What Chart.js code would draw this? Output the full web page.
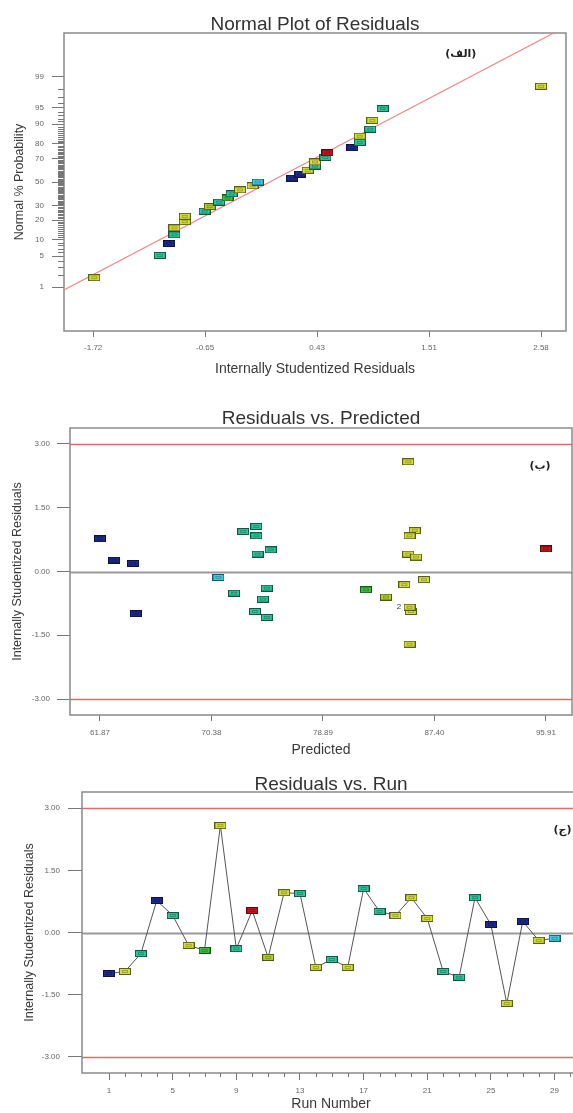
<!DOCTYPE html>
<html>
<head>
<meta charset="utf-8">
<script src="https://cdn.jsdelivr.net/npm/chart.js@4.4.1/dist/chart.umd.min.js"></script>
<style>
  html, body { margin: 0; padding: 0; background: #fff; overflow: hidden; }
  body { width: 573px; height: 1113px; position: relative; }
  .box { position: absolute; left: 0; width: 600px; }
</style>
</head>
<body>
<div class="box" style="top:0;height:385px"><canvas id="c1" width="600" height="385"></canvas></div>
<div class="box" style="top:385px;height:375px"><canvas id="c2" width="600" height="375"></canvas></div>
<div class="box" style="top:760px;height:353px"><canvas id="c3" width="600" height="353"></canvas></div>
<script>
const F = '"Liberation Sans", Arial, sans-serif';

// (الف) normal plot: residuals in rank order and their normal % probability
const normResid = [-1.71, -1.08, -0.99, -0.94, -0.94, -0.84, -0.84, -0.65, -0.60, -0.51, -0.43, -0.39, -0.31, -0.19, -0.14,
                   0.19, 0.27, 0.34, 0.41, 0.41, 0.51, 0.53, 0.77, 0.84, 0.84, 0.94, 0.96, 1.06, 2.58];
const normProb = [1.7, 5.2, 8.6, 12.1, 15.5, 19.0, 22.4, 25.9, 29.3, 32.8, 36.2, 39.7, 43.1, 46.6, 50.0,
                  53.4, 56.9, 60.3, 63.8, 67.2, 70.7, 74.1, 77.6, 81.0, 84.5, 87.9, 91.4, 94.8, 98.3];
const probTicks = [1, 5, 10, 20, 30, 50, 70, 80, 90, 95, 99];
const probTickLabels = ['1', '5', '10', '20', '30', '50', '70', '80', '90', '95', '99'];
const normXTicks = [-1.72, -0.645, 0.43, 1.505, 2.58];
const normXTickLabels = ['-1.72', '-0.65', '0.43', '1.51', '2.58'];
const fitLineX = [-2.0, 2.9];
const fitLineProb = [0.84, 99.98];

// (ب) and (ج): one value per run
const runs = [1, 2, 3, 4, 5, 6, 7, 8, 9, 10, 11, 12, 13, 14, 15, 16, 17, 18, 19, 20, 21, 22, 23, 24, 25, 26, 27, 28, 29];
const residuals = [-0.99, -0.94, -0.51, 0.77, 0.41, -0.31, -0.43, 2.58, -0.39, 0.53, -0.60, 0.96, 0.94, -0.84, -0.65,
                   -0.84, 1.06, 0.51, 0.41, 0.84, 0.34, -0.94, -1.08, 0.84, 0.19, -1.71, 0.27, -0.19, -0.14];
const predicted = [64.60, 85.60, 72.10, 61.87, 73.90, 85.10, 82.17, 85.40, 74.60, 95.91, 83.70, 85.90, 72.80, 85.50, 74.30,
                   85.50, 73.80, 74.90, 85.40, 85.50, 86.00, 73.70, 74.60, 73.80, 64.39, 85.50, 62.94, 86.60, 70.91];
const predTicks = [61.87, 70.38, 78.89, 87.40, 95.91];
const predTickLabels = ['61.87', '70.38', '78.89', '87.40', '95.91'];
const resTicks = [-3, -1.5, 0, 1.5, 3];
const resTickLabels = ['-3.00', '-1.50', '0.00', '1.50', '3.00'];
const runTicks = [1, 5, 9, 13, 17, 21, 25, 29];
const runTickLabels = ['1', '5', '9', '13', '17', '21', '25', '29'];

// marker colours (style, kept apart from the values)
const pal = {B: '#1d2a92', T: '#2fc79c', C: '#40cfe4', Y: '#d5df3a', YG: '#b2d22e', G: '#3cc43c', R: '#c9161e'};
const runColors = ['B', 'Y', 'T', 'B', 'T', 'Y', 'G', 'Y', 'T', 'R', 'YG', 'Y', 'T', 'Y', 'T',
                   'Y', 'T', 'T', 'Y', 'Y', 'Y', 'T', 'T', 'T', 'B', 'Y', 'B', 'Y', 'C'];
const normColors = ['Y', 'T', 'B', 'T', 'Y', 'Y', 'Y', 'T', 'YG', 'T', 'G', 'T', 'Y', 'Y', 'C',
                    'B', 'B', 'Y', 'T', 'Y', 'T', 'R', 'B', 'T', 'Y', 'T', 'Y', 'T', 'Y'];

// inverse normal cdf (Acklam) for the probability axis
function probit(p) {
  const a = [-39.69683028665376, 220.9460984245205, -275.9285104469687, 138.3577518672690, -30.66479806614716, 2.506628277459239];
  const b = [-54.47609879822406, 161.5858368580409, -155.6989798598866, 66.80131188771972, -13.28068155288572];
  const c = [-0.007784894002430293, -0.3223964580411365, -2.400758277161838, -2.549732539343734, 4.374664141464968, 2.938163982698783];
  const d = [0.007784695709041462, 0.3224671290700398, 2.445134137142996, 3.754408661907416];
  const lo = 0.02425;
  let q, r;
  if (p < lo) {
    q = Math.sqrt(-2 * Math.log(p));
    return (((((c[0]*q + c[1])*q + c[2])*q + c[3])*q + c[4])*q + c[5]) / ((((d[0]*q + d[1])*q + d[2])*q + d[3])*q + 1);
  }
  if (p > 1 - lo) {
    q = Math.sqrt(-2 * Math.log(1 - p));
    return -(((((c[0]*q + c[1])*q + c[2])*q + c[3])*q + c[4])*q + c[5]) / ((((d[0]*q + d[1])*q + d[2])*q + d[3])*q + 1);
  }
  q = p - 0.5; r = q * q;
  return (((((a[0]*r + a[1])*r + a[2])*r + a[3])*r + a[4])*r + a[5])*q / (((((b[0]*r + b[1])*r + b[2])*r + b[3])*r + b[4])*r + 1);
}

function shade(hex, f) {
  const n = parseInt(hex.slice(1), 16);
  return 'rgb(' + Math.round((n >> 16) * f) + ',' + Math.round(((n >> 8) & 255) * f) + ',' + Math.round((n & 255) * f) + ')';
}

// little rectangular marker like the Design-Expert ones
const boxCache = {};
function box(key) {
  if (boxCache[key]) return boxCache[key];
  const col = pal[key];
  const c = document.createElement('canvas');
  c.width = 12; c.height = 7;
  const g = c.getContext('2d');
  g.fillStyle = col;
  g.fillRect(0, 0, 12, 7);
  g.strokeStyle = shade(col, 0.42);
  g.lineWidth = 1;
  g.strokeRect(0.5, 0.5, 11, 6);
  g.globalAlpha = 0.45;
  g.strokeRect(3.5, 2.5, 5, 2);
  boxCache[key] = c;
  return c;
}

const decor = {
  id: 'decor',
  beforeDatasetsDraw(chart, args, o) {
    const {ctx, chartArea: a, scales: {x, y}} = chart;
    ctx.save();
    (o.lines || []).forEach(l => {
      const py = Math.round(y.getPixelForValue(l.value)) + 0.5;
      ctx.strokeStyle = l.color;
      ctx.lineWidth = l.width;
      ctx.beginPath(); ctx.moveTo(a.left, py); ctx.lineTo(a.right, py); ctx.stroke();
    });
    ctx.strokeStyle = '#8a8a8a';
    ctx.lineWidth = 1.5;
    ctx.strokeRect(a.left, a.top, a.right - a.left, a.bottom - a.top);
    ctx.strokeStyle = '#777';
    ctx.lineWidth = 1;
    ctx.beginPath();
    (o.xMinor || []).forEach(v => {
      const px = Math.round(x.getPixelForValue(v)) + 0.5;
      ctx.moveTo(px, a.bottom); ctx.lineTo(px, a.bottom + o.xMinorLen);
    });
    (o.yMinor || []).forEach(v => {
      const py = Math.round(y.getPixelForValue(v)) + 0.5;
      ctx.moveTo(a.left - o.yMinorLen, py); ctx.lineTo(a.left, py);
    });
    ctx.stroke();
    ctx.restore();
  },
  afterDraw(chart, args, o) {
    const {ctx, chartArea: a, scales: {x, y}} = chart;
    ctx.save();
    ctx.fillStyle = '#333';
    ctx.font = '19px ' + F;
    ctx.textAlign = 'center';
    ctx.textBaseline = 'alphabetic';
    ctx.fillText(o.title, (a.left + a.right) / 2, o.titleY);
    (o.tags || []).forEach(t => {
      ctx.font = t.font;
      ctx.fillStyle = t.color;
      ctx.textBaseline = 'middle';
      ctx.fillText(t.text, x.getPixelForValue(t.x), y.getPixelForValue(t.y));
    });
    ctx.restore();
  }
};

function xAxis(o) {
  return {
    type: 'linear', min: o.min, max: o.max,
    afterBuildTicks: s => { s.ticks = o.ticks.map(v => ({value: v})); },
    afterFit: s => { s.height = o.height; s.paddingLeft = 0; s.paddingRight = 0; },
    grid: {drawOnChartArea: false, tickLength: o.tickLength, tickColor: '#777', tickWidth: 1},
    border: {display: false},
    ticks: {autoSkip: false, maxRotation: 0, padding: o.pad, color: '#666',
            font: {family: F, size: 8}, callback: (v, i) => o.labels[i]},
    title: {display: true, text: o.title, color: '#3a3a3a', font: {family: F, size: 14},
            padding: {top: 0, bottom: o.titlePad}}
  };
}

function yAxis(o) {
  return {
    type: 'linear', min: o.min, max: o.max,
    afterBuildTicks: s => { s.ticks = o.ticks.map(v => ({value: v})); },
    afterFit: s => { s.width = o.width; s.paddingTop = 0; s.paddingBottom = 0; },
    grid: {drawOnChartArea: false, tickLength: o.tickLength, tickColor: '#777', tickWidth: 1},
    border: {display: false},
    ticks: {autoSkip: false, padding: o.pad, color: '#666',
            font: {family: F, size: 8}, callback: (v, i) => o.labels[i]},
    title: {display: true, text: o.title, color: '#3a3a3a', font: {family: F, size: 12.5},
            padding: {top: o.titlePad, bottom: 0}}
  };
}

function makeChart(id, datasets, pad, xo, yo, deco) {
  return new Chart(document.getElementById(id), {
    type: 'scatter',
    data: {datasets},
    options: {
      responsive: false, animation: false, events: [],
      layout: {padding: pad},
      scales: {x: xAxis(xo), y: yAxis(yo)},
      plugins: {legend: {display: false}, tooltip: {enabled: false}, decor: deco}
    },
    plugins: [decor]
  });
}

const limitLine = '#e46a6a';

// ---- chart 1: Normal Plot of Residuals
const probMinor = [];
for (let p = 2; p < 99; p++) if (!probTicks.includes(p)) probMinor.push(probit(p / 100));

makeChart('c1', [
  {
    data: normResid.map((r, i) => ({x: r, y: probit(normProb[i] / 100)})),
    pointStyle: normColors.map(box), pointRadius: 6
  },
  {
    type: 'line', showLine: true,
    data: fitLineX.map((v, i) => ({x: v, y: probit(fitLineProb[i] / 100)})),
    borderColor: '#f08a8a', borderWidth: 1.2, pointRadius: 0
  }
], {top: 33, right: 34, bottom: 0, left: 0},
{min: -2.0, max: 2.82, ticks: normXTicks, labels: normXTickLabels, height: 54, tickLength: 6, pad: 6,
 title: 'Internally Studentized Residuals', titlePad: 7.6},
{min: -3.3, max: 3.3, ticks: probTicks.map(p => probit(p / 100)), labels: probTickLabels, width: 64,
 tickLength: 12, pad: 8, title: 'Normal % Probability', titlePad: 12.5},
{title: 'Normal Plot of Residuals', titleY: 30, yMinor: probMinor, yMinorLen: 6,
 tags: [{text: '(الف)', x: 1.81, y: 2.84, font: 'bold 11px "DejaVu Sans"', color: '#222'}]});

// ---- chart 2: Residuals vs. Predicted
makeChart('c2', [
  {
    data: predicted.map((v, i) => ({x: v, y: residuals[i]})),
    pointStyle: runColors.map(box), pointRadius: 6
  }
], {top: 43, right: 28, bottom: 0, left: 0},
{min: 59.58, max: 97.9, ticks: predTicks, labels: predTickLabels, height: 45, tickLength: 6, pad: 7,
 title: 'Predicted', titlePad: 1.6},
{min: -3.375, max: 3.375, ticks: resTicks, labels: resTickLabels, width: 70, tickLength: 13, pad: 7,
 title: 'Internally Studentized Residuals', titlePad: 10.5},
{title: 'Residuals vs. Predicted', titleY: 39,
 lines: [{value: 3, color: limitLine, width: 1.3}, {value: -3, color: limitLine, width: 1.3},
         {value: 0, color: '#9a9a9a', width: 2}],
 tags: [{text: '(ب)', x: 95.46, y: 2.48, font: 'bold 11px "DejaVu Sans"', color: '#222'},
        {text: '2', x: 84.7, y: -0.82, font: '8px ' + F, color: '#334'}]});

// ---- chart 3: Residuals vs. Run
const runMinor = [];
for (let r = 2; r <= 30; r++) if (!runTicks.includes(r)) runMinor.push(r);

makeChart('c3', [
  {
    type: 'line', showLine: true,
    data: runs.map((r, i) => ({x: r, y: residuals[i]})),
    borderColor: '#555', borderWidth: 1, tension: 0,
    pointStyle: runColors.map(box), pointRadius: 6
  }
], {top: 32, right: 20, bottom: 0, left: 0},
{min: -0.7, max: 30.6, ticks: runTicks, labels: runTickLabels, height: 40, tickLength: 7, pad: 6,
 title: 'Run Number', titlePad: 0.6},
{min: -3.39, max: 3.39, ticks: resTicks, labels: resTickLabels, width: 82, tickLength: 14, pad: 8,
 title: 'Internally Studentized Residuals', titlePad: 22.5},
{title: 'Residuals vs. Run', titleY: 30, xMinor: runMinor, xMinorLen: 4,
 lines: [{value: 3, color: limitLine, width: 1.3}, {value: -3, color: limitLine, width: 1.3},
         {value: 0, color: '#9a9a9a', width: 2}],
 tags: [{text: '(ج)', x: 29.5, y: 2.48, font: 'bold 11px "DejaVu Sans"', color: '#222'}]});
</script>
</body>
</html>
